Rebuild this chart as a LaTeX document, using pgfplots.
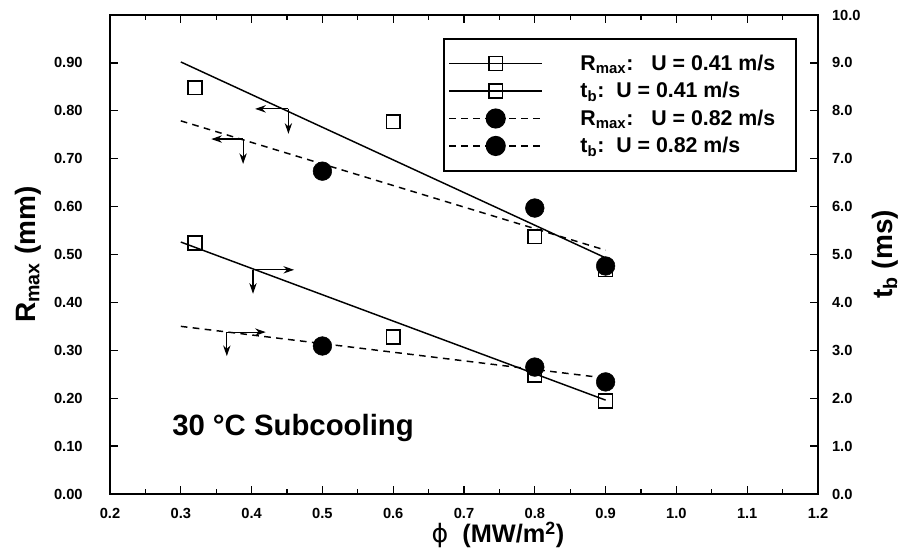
\documentclass[border=0pt]{standalone}
\usepackage{fontspec}
\setmainfont{Liberation Sans}
\newfontfamily\dejavu{DejaVu Sans}
\usepackage{pgfplots}
\pgfplotsset{compat=1.18}
\usetikzlibrary{arrows.meta}

\pgfplotsset{
  base/.style={
    scale only axis, width=531pt, height=359.25pt,
    xmin=0.2, xmax=1.2,
    axis line style={line width=2pt},
    every tick/.style={line width=1pt,black},
    major tick length=6pt, minor tick length=3.5pt,
    tick align=inside,
    /pgf/number format/assume math mode=true,
    ticklabel style={font=\fontsize{11}{12}\selectfont\bfseries},
    label style={font=\fontsize{21}{24}\selectfont\bfseries},
  },
  sq/.style={only marks,mark=square,mark size=5.2pt,line width=1.1pt,mark options={fill=white}},
  ci/.style={only marks,mark=*,mark size=7pt},
  fitA/.style={black,line width=1.1pt},
  fitB/.style={black,line width=1.1pt,dash pattern=on 5pt off 4pt},
}
\tikzset{arr/.style={line width=0.9pt,-{Stealth[length=8pt,width=5.5pt]}}}

\begin{document}
\begin{tikzpicture}
\begin{axis}[base, name=ax,
  ymin=0, ymax=1,
  xtick={0.2,0.3,0.4,0.5,0.6,0.7,0.8,0.9,1.0,1.1,1.2},
  minor x tick num=1,
  ytick={0,0.1,0.2,0.3,0.4,0.5,0.6,0.7,0.8,0.9},
  ytick pos=left, xtick pos=both, xticklabel pos=lower,
  xticklabel style={/pgf/number format/fixed,/pgf/number format/fixed zerofill,
    /pgf/number format/precision=1, yshift=-7pt},
  yticklabel style={/pgf/number format/fixed,/pgf/number format/fixed zerofill,
    /pgf/number format/precision=2, xshift=-17pt},
  xlabel={{\dejavu\mdseries ϕ}\ \ (MW/m\textsuperscript{2})},
  xlabel style={at={(axis description cs:0.548,-0.086)},anchor=center,
    font=\fontsize{19}{22}\selectfont\bfseries},
  ylabel={R\textsubscript{max} (mm)},
  ylabel style={at={(axis description cs:-0.116,0.5)},anchor=center},
  legend style={at={(axis description cs:0.970,0.952)},anchor=north east,
    draw=black,line width=1.3pt,inner xsep=3pt,inner ysep=10pt,
    font=\fontsize{16}{17}\selectfont\bfseries,row sep=3.5pt,
    nodes={inner sep=2pt},
    /tikz/every odd column/.append style={column sep=26pt}},
  legend cell align=left,
  legend image code/.code={
    \draw[mark repeat=2,mark phase=2,#1,line width=1.1pt]
      plot coordinates {(0pt,0pt) (35pt,0pt) (70pt,0pt)};},
]
% fits
\addplot[fitA,forget plot] coordinates {(0.3,0.902) (0.9,0.493)};
\addplot[fitB,forget plot] coordinates {(0.3,0.779) (0.9,0.509)};
% R_max data
\addplot[sq,forget plot] coordinates {(0.32,0.848) (0.6,0.777) (0.8,0.537) (0.9,0.468)};
\addplot[ci,forget plot] coordinates {(0.5,0.674) (0.8,0.597) (0.9,0.476)};

\addlegendimage{fitA,mark=square,mark size=5.2pt,mark options={solid,fill=white}}
\addlegendentry{R\textsubscript{max}:\ \ \ U = 0.41 m/s\rule{10.5pt}{0pt}}
\addlegendimage{fitA,mark=square,mark size=5.2pt,mark options={solid,fill=white}}
\addlegendentry{t\textsubscript{b}:\ \ U = 0.41 m/s}
\addlegendimage{fitB,mark=*,mark size=7pt,mark options={solid}}
\addlegendentry{R\textsubscript{max}:\ \ \ U = 0.82 m/s}
\addlegendimage{fitB,mark=*,mark size=7pt,mark options={solid}}
\addlegendentry{t\textsubscript{b}:\ \ U = 0.82 m/s}

% axis arrows
\draw[arr] (axis cs:0.452,0.804) -- (axis cs:0.405,0.804);
\draw[arr] (axis cs:0.452,0.804) -- (axis cs:0.452,0.752);
\draw[arr] (axis cs:0.388,0.741) -- (axis cs:0.343,0.741);
\draw[arr] (axis cs:0.388,0.741) -- (axis cs:0.388,0.689);
\draw[arr] (axis cs:0.402,0.468) -- (axis cs:0.460,0.468);
\draw[arr] (axis cs:0.402,0.468) -- (axis cs:0.402,0.418);
\draw[arr] (axis cs:0.365,0.338) -- (axis cs:0.420,0.338);
\draw[arr] (axis cs:0.365,0.338) -- (axis cs:0.365,0.288);

\node[font=\fontsize{22}{26}\selectfont\bfseries] at (axis cs:0.4585,0.138) {30 °C Subcooling};
\end{axis}

\begin{axis}[base,
  ymin=0, ymax=10,
  axis x line=none, axis y line*=right,
  ytick={0,1,2,3,4,5,6,7,8,9,10},
  yticklabel style={/pgf/number format/fixed,/pgf/number format/fixed zerofill,
    /pgf/number format/precision=1, xshift=7pt},
  ylabel={t\textsubscript{b} (ms)},
  ylabel style={at={(axis description cs:1.095,0.5)},anchor=center,rotate=0},
]
\addplot[fitA] coordinates {(0.3,5.26) (0.9,1.96)};
\addplot[fitB] coordinates {(0.3,3.50) (0.9,2.42)};
\addplot[sq] coordinates {(0.32,5.24) (0.6,3.28) (0.8,2.48) (0.9,1.94)};
\addplot[ci] coordinates {(0.5,3.09) (0.8,2.65) (0.9,2.34)};
\end{axis}

\pgfresetboundingbox
\path[use as bounding box] ([shift={(-82.5pt,-42.75pt)}]ax.south west)
  rectangle ([shift={(72pt,11.25pt)}]ax.north east);
\end{tikzpicture}
\end{document}
